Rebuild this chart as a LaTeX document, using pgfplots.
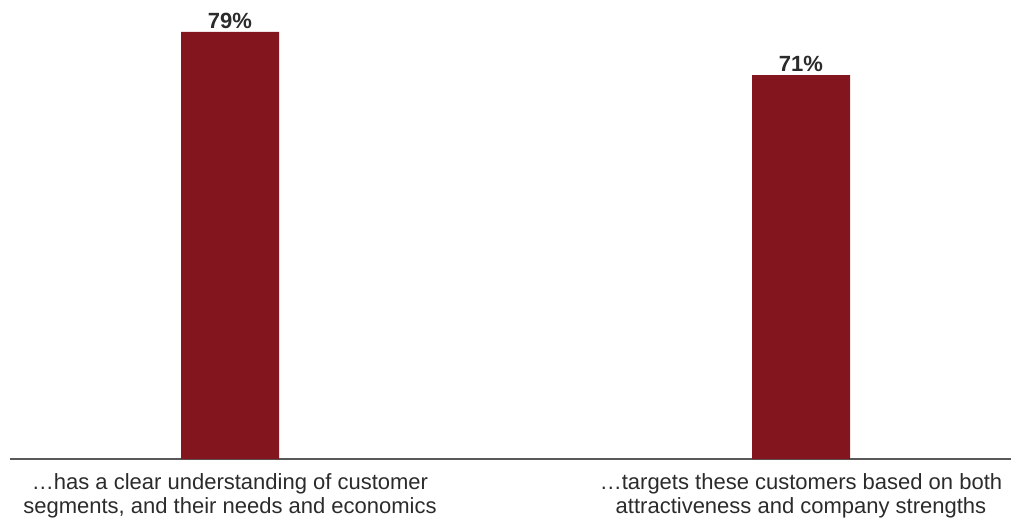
\documentclass[border=0pt]{standalone}
\usepackage{pgfplots}
\pgfplotsset{compat=1.18}
\usepackage{fontspec}
\setmainfont{Liberation Sans}
\definecolor{barred}{HTML}{83151F}
\definecolor{axisgray}{HTML}{595959}
\definecolor{txt}{HTML}{2B2B2B}
\begin{document}
\begin{tikzpicture}
\useasboundingbox (-10bp,-65bp) rectangle (1001bp,459bp);
\begin{axis}[
  scale only axis,
  width=1001bp, height=459bp,
  xmin=-0.3853, xmax=1.3678,
  ymin=0, ymax=84.92,
  axis x line*=bottom,
  axis y line=none,
  x axis line style={-, color=axisgray, line width=1.3bp},
  xtick={0,1},
  xticklabels={{\textellipsis has a clear understanding of customer\\segments, and their needs and economics},
               {\textellipsis targets these customers based on both\\attractiveness and company strengths}},
  xtick style={draw=none},
  xticklabel style={align=center, font=\fontsize{22bp}{23.4bp}\selectfont, text=txt, yshift=-7bp},
  ybar, bar width=98bp,
  clip=false,
  /pgf/number format/assume math mode=true,
  nodes near coords={\pgfmathprintnumber{\pgfplotspointmeta}\%},
  nodes near coords style={font=\fontsize{22bp}{26bp}\selectfont\bfseries, text=txt, anchor=south},
]
\addplot[fill=barred, draw=none] coordinates {(0,79) (1,71)};
\end{axis}
\end{tikzpicture}
\end{document}
